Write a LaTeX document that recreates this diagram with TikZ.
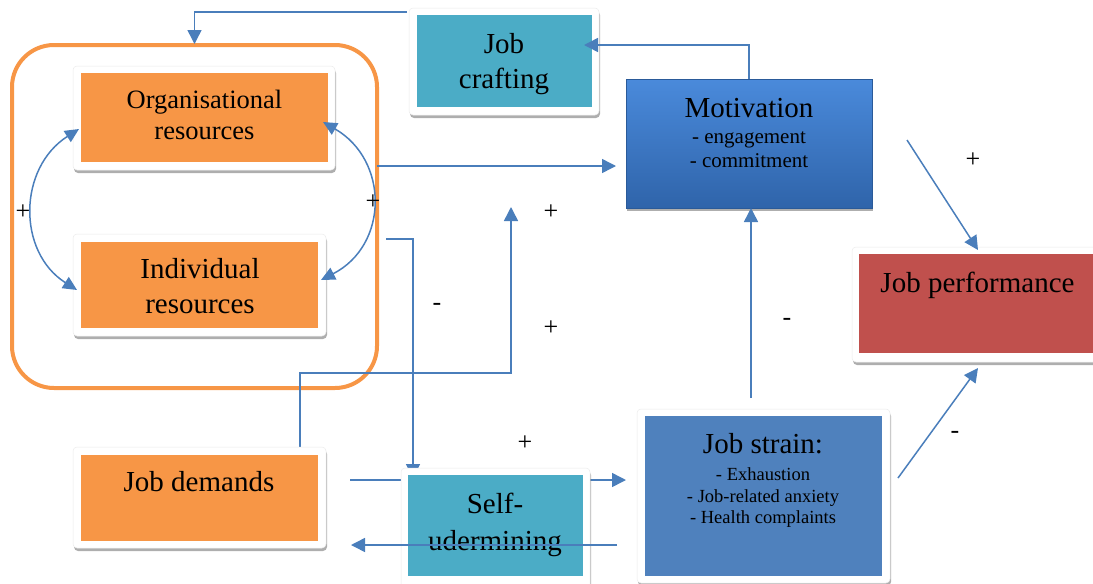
\documentclass[tikz,border=0pt]{standalone}
\usepackage{fontspec}
\setmainfont{Liberation Serif}
\usetikzlibrary{arrows.meta,shadows,calc}
\definecolor{orangeF}{HTML}{F79646}
\definecolor{tealF}{HTML}{4BACC6}
\definecolor{redF}{HTML}{C0504D}
\definecolor{blueF}{HTML}{4F81BD}
\definecolor{lineC}{HTML}{4A7EBB}
\definecolor{motTop}{HTML}{4A8ADB}
\definecolor{motBot}{HTML}{2F64AA}
\tikzset{
  frm/.style={fill=white, draw=black!8, line width=0.5pt, rounded corners=4pt, inner sep=0pt, outer sep=0pt,
    drop shadow={shadow xshift=1pt, shadow yshift=-3pt, opacity=0.45, fill=black!70}},
  inbox/.style={inner sep=0pt, outer sep=0pt, draw=none},
  conn/.style={draw=lineC, line width=1.5pt},
  arr/.style={conn, -{Triangle[length=14pt,width=14pt]}},
  darr/.style={conn, {Triangle[length=14pt,width=13pt]}-{Triangle[length=14pt,width=13pt]}},
  txtL/.style={font=\fontsize{29}{33}\selectfont, anchor=base, inner sep=0pt},
  txtM/.style={font=\fontsize{26.5}{30}\selectfont, anchor=base, inner sep=0pt},
  txtS/.style={font=\fontsize{21}{24}\selectfont, anchor=base, inner sep=0pt},
  txtXS/.style={font=\fontsize{18.5}{22}\selectfont, anchor=base, inner sep=0pt},
  sign/.style={font=\fontsize{26}{30}\selectfont, inner sep=0pt},
}
\begin{document}
\begin{tikzpicture}[x=1pt,y=-1pt]
\useasboundingbox (0,0) rectangle (1093,584);

% group container
\node[draw=orangeF, line width=4pt, rounded corners=42pt, minimum width=365pt, minimum height=343pt, inner sep=0pt, outer sep=0pt] (grp) at (194.5,216.5) {};

% coordinates for free connector ends
\coordinate (jcOut) at (407,12);
\coordinate (motIn) at (616,166);
\coordinate (grpOut) at (386,239);
\coordinate (suIn) at (413,478);
\coordinate (jdUp) at (300,451);
\coordinate (motIn2) at (511,207);
\coordinate (jdR) at (350,480);
\coordinate (jsL) at (626,480);

% connectors under boxes
\draw[arr] (jcOut) -| ($(grp.north)+(0,-1)$);
\draw[arr] (grp.east |- motIn) -- (motIn);
\draw[arr] (grpOut) -| (suIn);
\draw[arr] (jdUp) -- ++(0,-78) -| (motIn2);
\draw[arr] (jdR) -- (jsL);

% boxes
\node[frm, minimum width=262pt, minimum height=104pt] (orgF) at (204,118) {};
\node[inbox, fill=orangeF, minimum width=247pt, minimum height=89pt] (org) at (204.5,117.5) {};
\node[frm, minimum width=253pt, minimum height=102pt] (indF) at (199.5,285) {};
\node[inbox, fill=orangeF, minimum width=237pt, minimum height=86pt] (ind) at (199.5,285) {};
\node[frm, minimum width=253pt, minimum height=101pt] (jdF) at (199.5,497.5) {};
\node[inbox, fill=orangeF, minimum width=237pt, minimum height=86pt] (jd) at (199.5,498) {};
\node[frm, minimum width=190pt, minimum height=107pt] (jcF) at (504,61.5) {};
\node[inbox, fill=tealF, minimum width=175pt, minimum height=92pt] (jc) at (504.5,61) {};
\node[inner sep=0pt, outer sep=0pt, top color=motTop, bottom color=motBot, draw=motBot!90!black, line width=0.8pt,
  minimum width=246pt, minimum height=129pt,
  drop shadow={shadow xshift=1pt, shadow yshift=-3pt, opacity=0.45, fill=black!70}] (mot) at (749,143.5) {};
\node[frm, minimum width=258pt, minimum height=115pt] (jpF) at (981,304.5) {};
\node[inbox, fill=redF, minimum width=244pt, minimum height=99pt] (jp) at (981,303.5) {};
\node[frm, minimum width=189pt, minimum height=124pt] (suF) at (495.5,530) {};
\node[inbox, fill=tealF, minimum width=175pt, minimum height=101pt] (su) at (495.5,525.5) {};
\node[frm, minimum width=253pt, minimum height=174pt] (jsF) at (763.5,496) {};
\node[inbox, fill=blueF, minimum width=237pt, minimum height=160pt] (js) at (763.5,496) {};

% texts
\node[txtM] (t1) at (204.5,108) {Organisational};
\node[txtM] (t2) at (204.5,139) {resources};
\node[txtL] (t3) at (200,278) {Individual};
\node[txtL] (t4) at (200,313) {resources};
\node[txtL] (t5) at (199,491) {Job demands};
\node[txtL] (t6) at (504,53) {Job};
\node[txtL] (t7) at (504,88) {crafting};
\node[txtL] (t8) at (749,117) {Motivation};
\node[txtS] (t9) at (749,143) {- engagement};
\node[txtS] (t10) at (749,167) {- commitment};
\node[txtL] (t11) at (977.5,292) {Job performance};
\node[txtL] (t12) at (763,453) {Job strain:};
\node[txtXS] (t13) at (763,480) {- Exhaustion};
\node[txtXS] (t14) at (763,502) {- Job-related anxiety};
\node[txtXS] (t15) at (763,523) {- Health complaints};
\node[txtL] (t16) at (495,513) {Self-};
\node[txtL] (t17) at (495,550) {udermining};

% connectors over boxes
\coordinate (jcIn) at (584,45);
\coordinate (jsOut) at (617,545);
\coordinate (jdIn) at (351,545);
\coordinate (jsTop) at (751,398);
\coordinate (motOut) at (907,140);
\coordinate (jpIn) at (978,250);
\coordinate (jsOut2) at (898,478);
\coordinate (jpIn2) at (978,368);
\coordinate (orgL) at (79,129);
\coordinate (indL) at (77,290);
\coordinate (orgR) at (323,122);
\coordinate (indR) at (321,280);

\draw[arr] (mot.north) |- (jcIn);
\draw[arr] (jsOut) -- (jdIn);
\draw[arr] (jsTop) -- (jsTop |- mot.south);
\draw[arr] (motOut) -- (jpIn);
\draw[arr] (jsOut2) -- (jpIn2);
\draw[darr] (orgL) .. controls (18,168) and (17,252) .. (indL);
\draw[darr] (orgR) .. controls (389,160) and (389,245) .. (indR);

% signs
\node[sign] (s1) at (23,212) {+};
\node[sign] (s2) at (373,202) {+};
\node[sign] (s3) at (551,212) {+};
\node[sign] (s4) at (551,328) {+};
\node[sign] (s5) at (525,443) {+};
\node[sign] (s6) at (437,307) {-};
\node[sign] (s7) at (787,322) {-};
\node[sign] (s8) at (973,160) {+};
\node[sign] (s9) at (955,435) {-};
\end{tikzpicture}
\end{document}
